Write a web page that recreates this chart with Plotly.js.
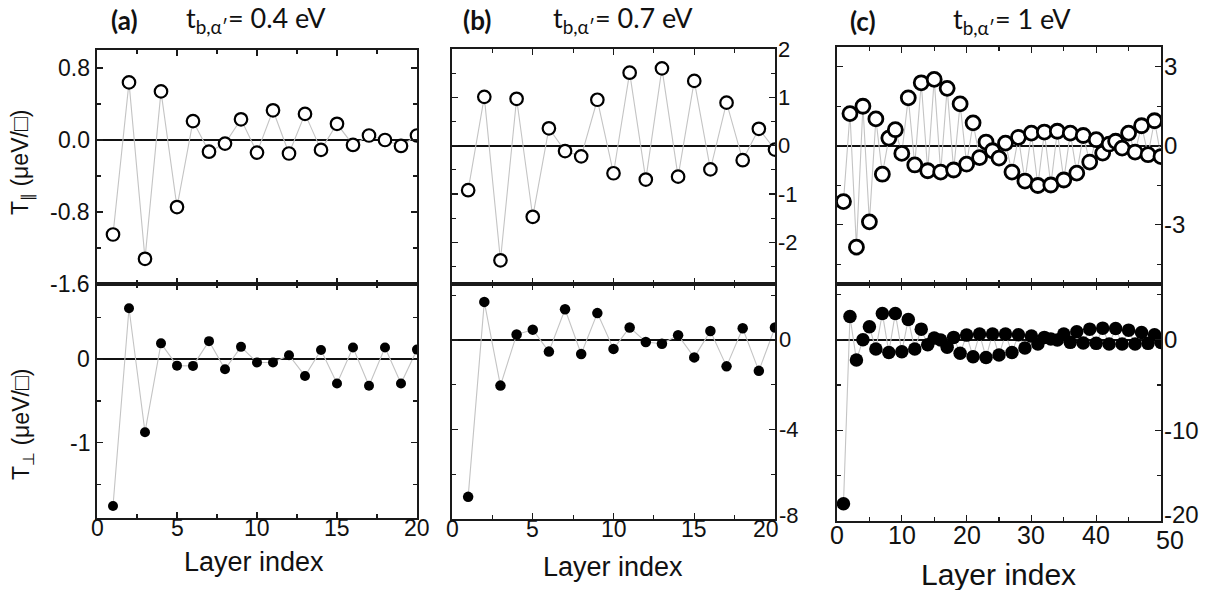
<!DOCTYPE html>
<html>
<head>
<meta charset="utf-8">
<script src="https://cdn.plot.ly/plotly-3.0.1.min.js"></script>
<style>html,body{margin:0;padding:0;background:#fff;}#chart{width:1215px;height:590px;}</style>
</head>
<body>
<div id="chart"></div>
<script>
// ---- data ----
const layers20 = [1,2,3,4,5,6,7,8,9,10,11,12,13,14,15,16,17,18,19,20];
const layers50 = [1,2,3,4,5,6,7,8,9,10,11,12,13,14,15,16,17,18,19,20,21,22,23,24,25,26,27,28,29,30,31,32,33,34,35,36,37,38,39,40,41,42,43,44,45,46,47,48,49,50];

const aPar  = [-1.05, 0.64, -1.32, 0.54, -0.745, 0.21, -0.13, -0.04, 0.23, -0.14, 0.33, -0.15, 0.29, -0.11, 0.18, -0.055, 0.05, 0.00, -0.066, 0.05];
const aPerp = [-1.757, 0.61, -0.873, 0.19, -0.077, -0.08, 0.216, -0.12, 0.148, -0.04, -0.04, 0.048, -0.2, 0.11, -0.29, 0.14, -0.317, 0.14, -0.29, 0.115];
const bPar  = [-0.92, 1.01, -2.37, 0.97, -1.47, 0.36, -0.11, -0.22, 0.95, -0.57, 1.51, -0.70, 1.60, -0.64, 1.34, -0.49, 0.89, -0.30, 0.35, -0.08];
const bPerp = [-7.01, 1.70, -2.04, 0.24, 0.46, -0.52, 1.37, -0.63, 1.20, -0.40, 0.56, -0.09, -0.17, 0.21, -0.78, 0.40, -1.18, 0.52, -1.38, 0.56];
const cPar  = [-2.12, 1.22, -3.85, 1.50, -2.89, 1.02, -1.08, 0.29, 0.61, -0.29, 1.82, -0.73, 2.39, -0.95, 2.52, -1.0, 2.18, -0.92, 1.59, -0.70,
               0.87, -0.45, 0.14, -0.19, -0.47, 0.10, -1.0, 0.32, -1.34, 0.48, -1.51, 0.52, -1.49, 0.55, -1.30, 0.48, -1.04, 0.39, -0.62, 0.23,
               -0.28, 0.06, 0.17, -0.09, 0.48, -0.24, 0.76, -0.34, 0.95, -0.41];
const cPerp = [-18.1, 2.57, -2.24, 0.0, 1.43, -1.03, 2.9, -1.4, 2.9, -1.32, 2.24, -1.03, 1.17, -0.55, 0.18, -0.04, -0.84, 0.26, -1.5, 0.51,
               -1.87, 0.62, -1.95, 0.62, -1.69, 0.62, -1.4, 0.55, -0.92, 0.4, -0.48, 0.26, 0.07, -0.04, 0.62, -0.29, 0.88, -0.37, 1.17, -0.4,
               1.28, -0.48, 1.25, -0.48, 1.06, -0.48, 0.81, -0.4, 0.55, -0.3];

// tick labels
const xTicks20 = [0, 5, 10, 15, 20];
const xTicks20Text = ["0", "5", "10", "15", "20"];
const xTicks50 = [0, 10, 20, 30, 40, 50];
const xTicks50Text = ["0", "10", "20", "30", "40", "50"];
const aParTicks = [-1.6, -0.8, 0, 0.8];
const aParTickText = ["-1.6", "-0.8", "0.0", "0.8"];
const aPerpTicks = [-1, 0];
const aPerpTickText = ["-1", "0"];
const bParTicks = [-2, -1, 0, 1, 2];
const bParTickText = ["-2", "-1", "0", "1", "2"];
const bPerpTicks = [-8, -4, 0];
const bPerpTickText = ["-8", "-4", "0"];
const cParTicks = [-3, 0, 3];
const cParTickText = ["-3", "0", "3"];
const cPerpTicks = [-20, -10, 0];
const cPerpTickText = ["-20", "-10", "0"];

const panelLabels = ["(a)", "(b)", "(c)"];
const panelTitles = ["t<sub>b,α′</sub>= 0.4 eV", "t<sub>b,α′</sub>= 0.7 eV", "t<sub>b,α′</sub>= 1 eV"];
const yTitlePar = "T<sub>∥</sub> (μeV/□)";
const yTitlePerp = "T<sub>⊥</sub> (μeV/□)";
const xTitle = "Layer index";

// ---- traces ----
const W = 1215, H = 590;
const lineCol = '#c4c4c4';
function openTrace(x, y, xa, ya, size, lw) {
  return {x: x, y: y, xaxis: xa, yaxis: ya, type: 'scatter', mode: 'lines+markers',
    line: {color: lineCol, width: 1.1},
    marker: {symbol: 'circle', size: size, color: 'white', line: {color: '#000', width: lw}},
    hoverinfo: 'skip'};
}
function filledTrace(x, y, xa, ya, size) {
  return {x: x, y: y, xaxis: xa, yaxis: ya, type: 'scatter', mode: 'lines+markers',
    line: {color: lineCol, width: 1.1},
    marker: {symbol: 'circle', size: size, color: '#000', line: {width: 0}},
    hoverinfo: 'skip'};
}
const data = [
  openTrace(layers20, aPar, 'x', 'y', 12.5, 2.2),
  filledTrace(layers20, aPerp, 'x2', 'y2', 10),
  openTrace(layers20, bPar, 'x3', 'y3', 12.5, 2.2),
  filledTrace(layers20, bPerp, 'x4', 'y4', 10.5),
  openTrace(layers50, cPar, 'x5', 'y5', 14, 2.8),
  filledTrace(layers50, cPerp, 'x6', 'y6', 13.5)
];

// ---- layout ----
const axCol = '#1a1a1a';
function px2x(p) { return p / W; }
function px2y(p) { return 1 - p / H; }
function xAxis(dom, anchor, vals, minorD, range) {
  return {domain: [px2x(dom[0]), px2x(dom[1])], anchor: anchor, range: range,
    tickmode: 'array', tickvals: vals, showticklabels: false,
    ticks: 'inside', ticklen: 6, tickwidth: 1.3, tickcolor: axCol,
    minor: {ticks: 'inside', ticklen: 4, tickwidth: 1.2, tickcolor: axCol, dtick: minorD, tick0: 0, showgrid: false},
    showline: true, linecolor: axCol, linewidth: 1.6, mirror: 'ticks',
    showgrid: false, zeroline: false};
}
function yAxis(dom, anchor, vals, minorD, range) {
  return {domain: [px2y(dom[1]), px2y(dom[0])], anchor: anchor, range: range,
    tickmode: 'array', tickvals: vals, showticklabels: false,
    ticks: 'inside', ticklen: 6, tickwidth: 1.3, tickcolor: axCol,
    minor: {ticks: 'inside', ticklen: 4, tickwidth: 1.2, tickcolor: axCol, dtick: minorD, tick0: 0, showgrid: false},
    showline: true, linecolor: axCol, linewidth: 1.6, mirror: 'ticks',
    showgrid: false, zeroline: true, zerolinecolor: '#111', zerolinewidth: 1.6};
}

const xa = [97, 417], xb = [452, 775], xc = [837, 1161];
const layout = {
  width: W, height: H, margin: {l: 0, r: 0, t: 0, b: 0},
  paper_bgcolor: '#fff', plot_bgcolor: '#fff', showlegend: false,
  xaxis:  xAxis(xa, 'y',  xTicks20, 2.5, [0, 20]),
  yaxis:  yAxis([50, 284], 'x', aParTicks, 0.4, [-1.6, 1.0]),
  xaxis2: xAxis(xa, 'y2', xTicks20, 2.5, [0, 20]),
  yaxis2: yAxis([284, 518], 'x2', aPerpTicks, 0.5, [-1.9, 0.9]),
  xaxis3: xAxis(xb, 'y3', xTicks20, 2.5, [0, 20]),
  yaxis3: yAxis([49, 284], 'x3', bParTicks, 0.5, [-2.86, 2]),
  xaxis4: xAxis(xb, 'y4', xTicks20, 2.5, [0, 20]),
  yaxis4: yAxis([284, 519], 'x4', bPerpTicks, 2, [-8, 2.5]),
  xaxis5: xAxis(xc, 'y5', xTicks50, 5, [0, 50]),
  yaxis5: yAxis([47, 284], 'x5', cParTicks, 1.5, [-5.25, 3.75]),
  xaxis6: xAxis(xc, 'y6', xTicks50, 5, [0, 50]),
  yaxis6: yAxis([284, 521], 'x6', cPerpTicks, 5, [-20, 6.15]),
  annotations: []
};

const numFam = 'Liberation Sans, Arial, sans-serif';
// shifts (px) for the corner labels that sit next to each other, as in the reference
function addYLabels(vals, txt, yref, xPx, anchor, size, lowShift) {
  for (let i = 0; i < vals.length; i++) {
    layout.annotations.push({text: txt[i], xref: 'paper', x: px2x(xPx), xanchor: anchor,
      yref: yref, y: vals[i], yanchor: 'middle', showarrow: false, borderpad: 0,
      yshift: (i === 0 && lowShift) ? lowShift : 0,
      font: {family: numFam, size: size, color: '#111'}});
  }
}
function addXLabels(vals, txt, xref, yPx, size, lastShift) {
  for (let i = 0; i < vals.length; i++) {
    const last = i === vals.length - 1;
    layout.annotations.push({text: txt[i], xref: xref, x: vals[i], xanchor: 'center',
      yref: 'paper', y: px2y(yPx), yanchor: 'middle', showarrow: false, borderpad: 0,
      xshift: last ? lastShift[0] : 0, yshift: last ? lastShift[1] : 0,
      font: {family: numFam, size: size, color: '#111'}});
  }
}
addYLabels(aParTicks, aParTickText, 'y', 91, 'right', 23, 0);
addYLabels(aPerpTicks, aPerpTickText, 'y2', 91, 'right', 23, 0);
addYLabels(bParTicks, bParTickText, 'y3', 777, 'left', 22, 0);
addYLabels(bPerpTicks, bPerpTickText, 'y4', 778, 'left', 22, 4);
addYLabels(cParTicks, cParTickText, 'y5', 1163, 'left', 24, 0);
addYLabels(cPerpTicks, cPerpTickText, 'y6', 1163, 'left', 24, 7);
addXLabels(xTicks20, xTicks20Text, 'x2', 528, 23, [0, 0]);
addXLabels(xTicks20, xTicks20Text, 'x4', 529, 23, [-9, 0]);
addXLabels(xTicks50, xTicks50Text, 'x6', 535, 25, [9, -5]);

const titleFont = {family: 'Lato, Open Sans, sans-serif', size: 26, color: '#111'};
const labelX = [124, 477, 863];
const titleX = [256, 623, 1012];
const titleY = [20, 20, 21];
for (let i = 0; i < 3; i++) {
  layout.annotations.push({text: '<b>' + panelLabels[i] + '</b>', xref: 'paper', yref: 'paper',
    x: px2x(labelX[i]), y: px2y(titleY[i]), xanchor: 'center', yanchor: 'middle', showarrow: false, font: titleFont});
  layout.annotations.push({text: panelTitles[i], xref: 'paper', yref: 'paper',
    x: px2x(titleX[i]), y: px2y(titleY[i] - 1), xanchor: 'center', yanchor: 'middle', showarrow: false,
    font: Object.assign({}, titleFont, {size: 27})});
}
const xtX = [254, 613, 998], xtY = [562, 567, 574], xtS = [27, 27, 30];
for (let i = 0; i < 3; i++) {
  layout.annotations.push({text: xTitle, xref: 'paper', yref: 'paper',
    x: px2x(xtX[i]), y: px2y(xtY[i]), xanchor: 'center', yanchor: 'middle', showarrow: false,
    font: {family: numFam, size: xtS[i], color: '#111'}});
}
layout.annotations.push({text: yTitlePar, xref: 'paper', yref: 'paper', x: px2x(22), y: px2y(163),
  xanchor: 'center', yanchor: 'middle', textangle: -90, showarrow: false,
  font: {family: numFam, size: 23, color: '#111'}});
layout.annotations.push({text: yTitlePerp, xref: 'paper', yref: 'paper', x: px2x(22), y: px2y(425),
  xanchor: 'center', yanchor: 'middle', textangle: -90, showarrow: false,
  font: {family: numFam, size: 23, color: '#111'}});

Plotly.newPlot('chart', data, layout, {staticPlot: true, displayModeBar: false});
</script>
</body>
</html>
